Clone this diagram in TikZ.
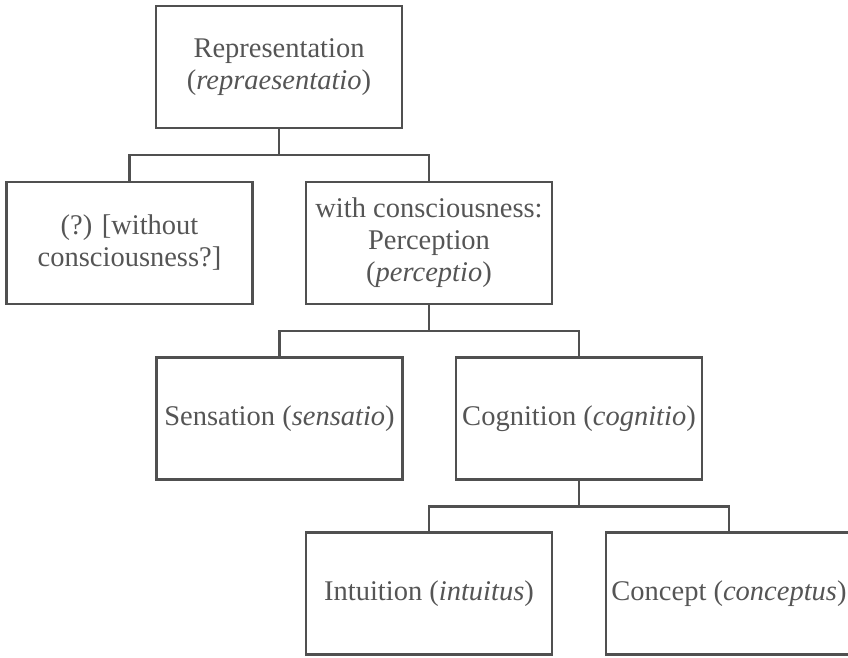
\documentclass[tikz,border=0pt]{standalone}
\usepackage{fontspec}
\setmainfont{Liberation Serif}
\begin{document}
\begin{tikzpicture}[x=1pt, y=-1pt]
    \definecolor{lineColour}{HTML}{505050}
    \definecolor{textColour}{HTML}{555555}

    \def\barGap{25.5}

    \tikzset{
        box/.style={draw=lineColour, line width=2.5pt, minimum width=246pt, minimum height=122pt,
            inner sep=0pt, align=center, text=textColour, font=\fontsize{28.5}{32}\selectfont},
        link/.style={draw=lineColour, line width=2.5pt}
    }

    \useasboundingbox (0,0) rectangle (848,657);

    \node[box] (rep) at (279,67) {Representation\\(\textit{repraesentatio})};

    \node[box] (nocon) at (129.5,243) {(?) [without\\consciousness?]};
    \node[box] (percep) at (429,243) {with consciousness:\\Perception\\(\textit{perceptio})};

    \node[box] (sens) at (279.5,418.5) {Sensation (\textit{sensatio})};
    \node[box] (cogn) at (579,418.5) {Cognition (\textit{cognitio})};

    \node[box] (intu) at (429,593.5) {Intuition (\textit{intuitus})};
    \node[box] (conc) at (729,593.5) {Concept (\textit{conceptus})};

    \draw[link] (rep.south) -- ++(0,\barGap) -| (nocon.north);
    \draw[link] (rep.south) -- ++(0,\barGap) -| (percep.north);

    \draw[link] (percep.south) -- ++(0,\barGap) -| (sens.north);
    \draw[link] (percep.south) -- ++(0,\barGap) -| (cogn.north);

    \draw[link] (cogn.south) -- ++(0,\barGap) -| (intu.north);
    \draw[link] (cogn.south) -- ++(0,\barGap) -| (conc.north);

\end{tikzpicture}
\end{document}
